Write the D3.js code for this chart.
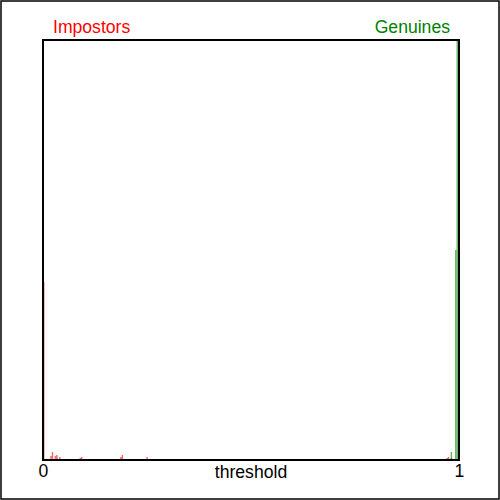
<!DOCTYPE html>
<html>
<head>
<meta charset="utf-8">
<script src="https://cdn.jsdelivr.net/npm/d3@7"></script>
<style>
  html, body { margin: 0; padding: 0; background: #fff; }
  svg { display: block; font-family: "Liberation Sans", Arial, sans-serif; }
</style>
</head>
<body>
<script>
// ---- data (histogram bins, bin width 0.0035 on threshold 0..1) ----
const binWidth = 0.0035;
const impostorBins   = [0, 2, 5, 6, 8, 9, 11, 19, 25, 26, 31, 34, 53, 54, 60, 71, 85, 119, 137, 143, 217, 226, 246, 271, 277, 278, 280];
const impostorCounts = [178, 1, 4, 8, 4, 5, 3, 1, 2, 3, 1, 1, 3, 5, 1, 3, 1, 1, 1, 1, 1, 1, 1, 1, 2, 3, 2];
const genuineBins    = [280, 283, 284];
const genuineCounts  = [8, 210, 600];
const xTickValues = [0, 1];
const xTickLabels = ["0", "1"];
const seriesNames = ["Impostors", "Genuines"];
const axisTitle = "threshold";
const yMax = 420;

const W = 500, H = 500;
const margin = { left: 43, right: 41, top: 40, bottom: 40 };
const fontSize = 17.6;

const svg = d3.select("body").append("svg").attr("width", W).attr("height", H);

// outer border
svg.append("rect").attr("x", 1).attr("y", 1).attr("width", 498).attr("height", 498)
  .attr("fill", "none").attr("stroke", "#000").attr("stroke-width", 1.5);

const x = d3.scaleLinear().domain([0, 1]).range([margin.left, W - margin.right]);
const y = d3.scaleLinear().domain([0, yMax]).range([H - margin.bottom, margin.top]);

svg.append("clipPath").attr("id", "plotclip").append("rect")
  .attr("x", x(0)).attr("y", y(yMax)).attr("width", x(1) - x(0)).attr("height", y(0) - y(yMax));

const plot = svg.append("g").attr("clip-path", "url(#plotclip)");

function drawSeries(bins, counts, color) {
  const data = bins.map((b, i) => ({ t: b * binWidth, v: counts[i] }));
  plot.append("g").selectAll("rect").data(data).join("rect")
    .attr("x", d => x(d.t))
    .attr("width", d => x(d.t + binWidth) - x(d.t))
    .attr("y", d => y(d.v))
    .attr("height", d => y(0) - y(d.v))
    .attr("fill", color)
    .attr("fill-opacity", 0.6);
}
drawSeries(impostorBins, impostorCounts, "#ff0000");
drawSeries(genuineBins, genuineCounts, "#008000");

// plot frame
svg.append("rect").attr("x", x(0)).attr("y", y(yMax))
  .attr("width", x(1) - x(0)).attr("height", y(0) - y(yMax))
  .attr("fill", "none").attr("stroke", "#000").attr("stroke-width", 2);

// x axis tick labels
const xAxis = d3.axisBottom(x).tickValues(xTickValues).tickFormat((d, i) => xTickLabels[i]).tickSize(0).tickPadding(5);
const gx = svg.append("g").attr("transform", `translate(0,${y(0)})`).call(xAxis);
gx.select(".domain").remove();
gx.selectAll("text").attr("font-size", fontSize).attr("font-family", "Liberation Sans, Arial, sans-serif").attr("fill", "#000");

svg.append("text").attr("x", (x(0) + x(1)) / 2).attr("y", 478)
  .attr("text-anchor", "middle").attr("font-size", fontSize).attr("fill", "#000").text(axisTitle);

// series titles
svg.append("text").attr("x", x(0) + 10).attr("y", 33)
  .attr("font-size", fontSize).attr("fill", "#ff0000").text(seriesNames[0]);
svg.append("text").attr("x", x(1) - 9).attr("y", 33).attr("text-anchor", "end")
  .attr("font-size", fontSize).attr("fill", "#008000").text(seriesNames[1]);
</script>
</body>
</html>
